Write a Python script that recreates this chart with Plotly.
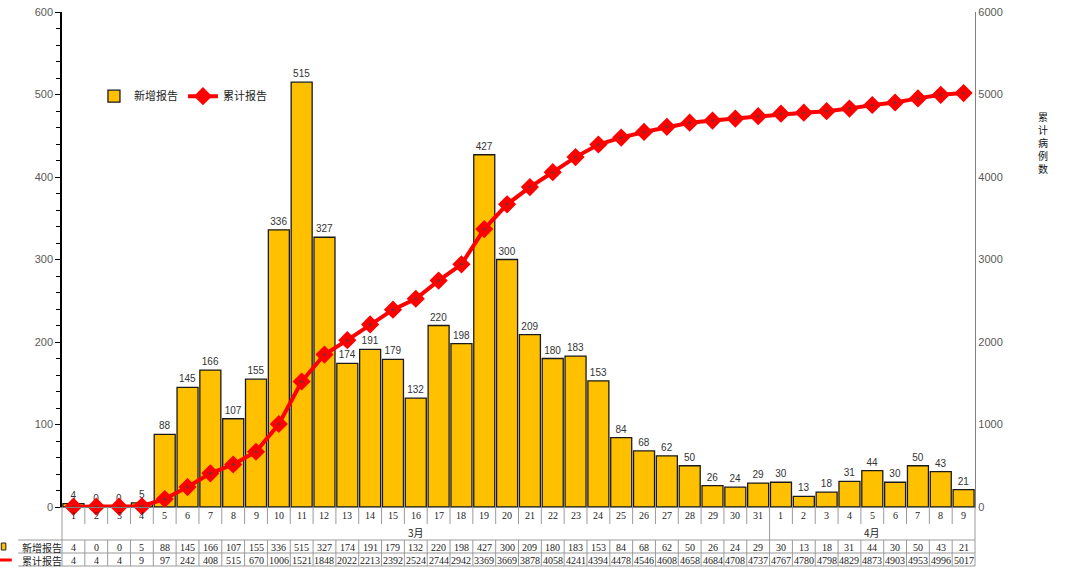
import plotly.graph_objects as go

# ---------------- data ----------------
days = ["1", "2", "3", "4", "5", "6", "7", "8", "9", "10",
        "11", "12", "13", "14", "15", "16", "17", "18", "19", "20",
        "21", "22", "23", "24", "25", "26", "27", "28", "29", "30", "31",
        "1", "2", "3", "4", "5", "6", "7", "8", "9"]
month_labels = ["3月", "4月"]
month_lengths = [31, 9]
new_cases = [4, 0, 0, 5, 88, 145, 166, 107, 155, 336,
             515, 327, 174, 191, 179, 132, 220, 198, 427, 300,
             209, 180, 183, 153, 84, 68, 62, 50, 26, 24, 29,
             30, 13, 18, 31, 44, 30, 50, 43, 21]
cum_cases = [4, 4, 4, 9, 97, 242, 408, 515, 670, 1006,
             1521, 1848, 2022, 2213, 2392, 2524, 2744, 2942, 3369, 3669,
             3878, 4058, 4241, 4394, 4478, 4546, 4608, 4658, 4684, 4708, 4737,
             4767, 4780, 4798, 4829, 4873, 4903, 4953, 4996, 5017]
series_names = ["新增报告", "累计报告"]
right_title = "累计病例数"

x = list(range(len(days)))

CJK = "Noto Sans CJK SC"
NUMF = "Liberation Sans"
SERIF = "Liberation Serif"

fig = go.Figure()
fig.add_trace(go.Bar(
    x=x, y=new_cases, name=series_names[0],
    marker=dict(color="#FFC000", line=dict(color="#1a1a1a", width=1.3)),
    text=[str(v) for v in new_cases], textposition="outside",
    textfont=dict(size=10, color="#333333", family=NUMF),
    cliponaxis=False,
))
fig.add_trace(go.Scatter(
    x=x, y=cum_cases, name=series_names[1], yaxis="y2",
    mode="lines+markers",
    line=dict(color="#FF0000", width=4),
    marker=dict(symbol="diamond", size=14, color="#FF0000"),
    cliponaxis=False,
))
fig.add_trace(go.Scatter(
    x=x, y=cum_cases, yaxis="y2", mode="markers", showlegend=False,
    marker=dict(size=3, color="#7a3030"), hoverinfo="skip", cliponaxis=False,
))

# ---------------- table geometry (paper y) ----------------
PH = 495.0
def py(px_below):
    return -px_below / PH

y_day_bot = py(17)
y_month_bot = py(33)
y_row1_bot = py(46)
y_row2_bot = py(59)

shapes = []
grid = "#9a9a9a"
for yy in (y_month_bot, y_row1_bot, y_row2_bot):
    shapes.append(dict(type="line", xref="paper", yref="paper",
                       x0=-0.048, x1=1, y0=yy, y1=yy,
                       line=dict(color=grid, width=1)))
for xx in (0, 1):
    shapes.append(dict(type="line", xref="paper", yref="paper",
                       x0=xx, x1=xx, y0=0, y1=y_row2_bot,
                       line=dict(color=grid, width=1)))
month_ends = []
acc = 0
for n in month_lengths:
    acc += n
    month_ends.append(acc - 1)
for i in x[:-1]:
    b = i + 0.5
    if i in month_ends:
        shapes.append(dict(type="line", xref="x", yref="paper", x0=b, x1=b,
                           y0=0, y1=y_row2_bot, line=dict(color=grid, width=1)))
    else:
        shapes.append(dict(type="line", xref="x", yref="paper", x0=b, x1=b,
                           y0=0, y1=y_day_bot, line=dict(color=grid, width=1)))
        shapes.append(dict(type="line", xref="x", yref="paper", x0=b, x1=b,
                           y0=y_month_bot, y1=y_row2_bot, line=dict(color=grid, width=1)))
shapes.append(dict(type="rect", xref="paper", yref="paper",
                   x0=-0.0665, x1=-0.0615, y0=py(36), y1=py(43),
                   fillcolor="#FFC000", line=dict(color="#222222", width=1)))
shapes.append(dict(type="line", xref="paper", yref="paper",
                   x0=-0.068, x1=-0.055, y0=py(53), y1=py(53),
                   line=dict(color="#FF0000", width=3)))

annotations = []
tf = dict(size=10, color="#222222", family=SERIF)
for i in x:
    annotations.append(dict(x=i, y=py(8), xref="x", yref="paper", text=days[i],
                            showarrow=False, font=tf, yanchor="middle"))
    annotations.append(dict(x=i, y=py(40), xref="x", yref="paper", text=str(new_cases[i]),
                            showarrow=False, font=tf, yanchor="middle"))
    annotations.append(dict(x=i, y=py(53), xref="x", yref="paper", text=str(cum_cases[i]),
                            showarrow=False, font=tf, yanchor="middle"))
start = 0
for lab, n in zip(month_labels, month_lengths):
    annotations.append(dict(x=start + (n - 1) / 2, y=py(25), xref="x", yref="paper",
                            text=lab, showarrow=False,
                            font=dict(size=10, color="#222222", family=CJK), yanchor="middle"))
    start += n
for name, yy in zip(series_names, (py(40), py(53))):
    annotations.append(dict(x=-0.022, y=yy, xref="paper", yref="paper", text=name,
                            showarrow=False, font=dict(size=10, color="#222222", family=CJK),
                            xanchor="center", yanchor="middle", height=13))
annotations.append(dict(x=1.0745, y=0.737, xref="paper", yref="paper",
                        text="<br>".join(list(right_title)), showarrow=False,
                        font=dict(size=10, color="#111111", family=CJK),
                        xanchor="center", yanchor="middle"))

fig.update_layout(
    width=1069, height=569,
    margin=dict(l=62, r=94, t=12, b=62, autoexpand=False),
    paper_bgcolor="white", plot_bgcolor="white",
    bargap=0.08,
    showlegend=True,
    legend=dict(orientation="h", x=0.035, y=0.83, xanchor="left", yanchor="middle",
                font=dict(size=11, color="#222222", family=CJK),
                bgcolor="rgba(0,0,0,0)", itemwidth=30, tracegroupgap=0),
    xaxis=dict(range=[-0.5, len(days) - 0.5], showticklabels=False, ticks="",
               showgrid=False, zeroline=False, showline=True,
               linecolor="#808080", linewidth=1, automargin=False),
    yaxis=dict(range=[0, 600], dtick=100, ticks="outside", ticklen=5,
               tickcolor="#000000", showline=True, linecolor="#000000", linewidth=1.5,
               showgrid=False, zeroline=False, automargin=False,
               minor=dict(dtick=20, ticks="outside", ticklen=4, tickcolor="#000000"),
               tickfont=dict(size=11, color="#595959", family=NUMF)),
    yaxis2=dict(range=[0, 6000], dtick=1000, overlaying="y", side="right",
                showline=True, linecolor="#808080", linewidth=1.2, ticks="",
                showgrid=False, zeroline=False, automargin=False,
                tickfont=dict(size=11, color="#595959", family=NUMF)),
    shapes=shapes,
    annotations=annotations,
)

fig.write_html("out.html", config={"displayModeBar": False},
               post_script="document.body.style.margin='0';document.body.style.overflow='hidden';")
